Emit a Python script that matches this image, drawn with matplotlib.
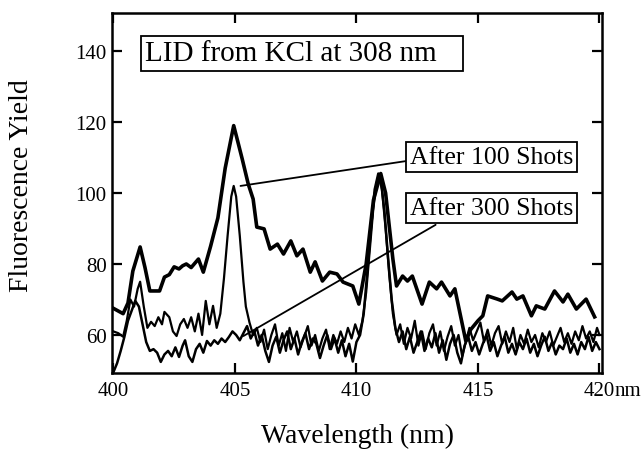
import matplotlib.pyplot as plt

plt.rcParams['font.family'] = ['Liberation Serif', 'DejaVu Serif']

# thick trace (no label in the figure)
wl_top = [400.0, 400.4, 400.6, 400.8, 401.1, 401.3, 401.5, 401.9, 402.1, 402.3,
          402.5, 402.7, 402.85, 403.0, 403.2, 403.5, 403.7, 404.0, 404.3, 404.6,
          404.95, 405.1, 405.3, 405.55, 405.75, 405.9, 406.2, 406.45, 406.75, 407.0,
          407.3, 407.55, 407.8, 408.1, 408.3, 408.6, 408.9, 409.2, 409.45, 409.85,
          410.1, 410.4, 410.7, 411.0, 411.2, 411.5, 411.65, 411.9, 412.1, 412.3,
          412.7, 413.0, 413.3, 413.5, 413.85, 414.05, 414.5, 414.7, 415.0, 415.2,
          415.4, 415.8, 416.0, 416.4, 416.6, 416.85, 417.2, 417.4, 417.75, 418.15,
          418.5, 418.7, 419.05, 419.45, 419.8]
y_top = [67.5, 66.0, 69, 78, 84.8, 79, 72.4, 72.4, 76.3, 77,
         79.2, 78.6, 79.5, 80, 79, 81.4, 77.7, 85, 93, 107,
         119, 115, 109.6, 102.5, 98.3, 90.4, 89.9, 84.2, 85.6, 82.8,
         86.5, 82.3, 84.2, 77.7, 80.6, 75.2, 77.7, 77.2, 74.9, 73.8,
         68.7, 80, 98, 105.5, 100, 81.4, 73.8, 76.6, 75.2, 76.6,
         68.7, 74.9, 73.0, 74.9, 71, 73, 58.3, 61.5, 64, 65.4,
         71, 70.1, 69.6, 72.1, 70.1, 71, 65.4, 68.2, 67.3, 72.4,
         69.3, 71.5, 67.3, 70.1, 65.1]

wl_100 = [400.0, 400.2, 400.4, 400.55, 400.7, 400.85, 401.0, 401.1, 401.25, 401.4,
          401.55, 401.7, 401.85, 402.0, 402.1, 402.3, 402.45, 402.6, 402.75, 402.9,
          403.05, 403.2, 403.35, 403.5, 403.65, 403.8, 403.95, 404.1, 404.25, 404.4,
          404.55, 404.7, 404.85, 404.95, 405.05, 405.2, 405.35, 405.45, 405.6, 405.75,
          405.9, 406.05, 406.2, 406.35, 406.5, 406.65, 406.8, 406.95, 407.1, 407.25,
          407.4, 407.55, 407.7, 407.85, 408.0, 408.15, 408.3, 408.45, 408.6, 408.75,
          408.9, 409.05, 409.2, 409.35, 409.5, 409.65, 409.8, 409.95, 410.1, 410.25,
          410.4, 410.55, 410.7, 410.85, 410.95, 411.05, 411.2, 411.35, 411.5, 411.65,
          411.8, 411.95, 412.1, 412.25, 412.4, 412.55, 412.7, 412.85, 413.0, 413.15,
          413.3, 413.45, 413.6, 413.75, 413.9, 414.05, 414.2, 414.35, 414.5, 414.65,
          414.8, 414.95, 415.1, 415.25, 415.4, 415.55, 415.7, 415.85, 416.0, 416.15,
          416.3, 416.45, 416.6, 416.75, 416.9, 417.05, 417.2, 417.35, 417.5, 417.65,
          417.8, 417.95, 418.1, 418.25, 418.4, 418.55, 418.7, 418.85, 419.0, 419.15,
          419.3, 419.45, 419.6, 419.75, 419.9, 420.0]
y_100 = [61, 60.5, 59.5, 64, 70, 68, 73, 75, 68, 62,
         63.7, 62.5, 65, 63, 66.5, 65, 61, 59.7, 63, 64.5,
         62, 65, 61, 66, 60, 69.6, 63, 68.2, 62, 66,
         76, 88, 99, 102, 99, 88, 75, 68, 63.5, 60,
         62, 58, 61.5, 56, 60, 63, 57, 60.5, 55.5, 62,
         58, 61, 56.5, 59.5, 62.5, 57, 60, 55.5, 59, 61.5,
         56, 60, 57.5, 61, 58, 62, 59, 63, 60, 64,
         72, 84, 96, 103.5, 104, 101, 90, 77, 66, 60,
         63, 57.5, 62, 59, 64, 57, 61, 56, 60.5, 63,
         57, 61, 55.5, 59.5, 62.5, 57, 60, 54, 58, 62,
         58.5, 61, 63.5, 58, 61.5, 57, 60.5, 62.5, 57.5, 61,
         58, 62, 56, 60, 57.5, 61.5, 58, 60, 56.5, 60.5,
         58, 61, 57, 59.5, 62, 58, 60.5, 57.5, 61, 58.5,
         62.5, 59, 61, 58, 62, 60]

wl_300 = [400.0, 400.15, 400.3, 400.45, 400.6, 400.75, 400.9, 401.05, 401.2, 401.35,
          401.5, 401.65, 401.8, 401.95, 402.1, 402.25, 402.4, 402.55, 402.7, 402.85,
          402.95, 403.1, 403.25, 403.4, 403.55, 403.7, 403.85, 404.0, 404.15, 404.3,
          404.45, 404.6, 404.75, 404.9, 405.05, 405.2, 405.35, 405.5, 405.65, 405.8,
          405.95, 406.1, 406.25, 406.4, 406.55, 406.7, 406.85, 407.0, 407.15, 407.3,
          407.45, 407.6, 407.75, 407.9, 408.05, 408.2, 408.35, 408.5, 408.65, 408.8,
          408.95, 409.1, 409.25, 409.4, 409.55, 409.7, 409.85, 410.0, 410.15, 410.3,
          410.45, 410.6, 410.75, 410.9, 411.0, 411.15, 411.3, 411.45, 411.6, 411.75,
          411.9, 412.05, 412.2, 412.35, 412.5, 412.65, 412.8, 412.95, 413.1, 413.25,
          413.4, 413.55, 413.7, 413.85, 414.0, 414.15, 414.3, 414.45, 414.6, 414.75,
          414.9, 415.05, 415.2, 415.35, 415.5, 415.65, 415.8, 415.95, 416.1, 416.25,
          416.4, 416.55, 416.7, 416.85, 417.0, 417.15, 417.3, 417.45, 417.6, 417.75,
          417.9, 418.05, 418.2, 418.35, 418.5, 418.65, 418.8, 418.95, 419.1, 419.25,
          419.4, 419.55, 419.7, 419.85, 420.0]
y_300 = [49.5, 52, 55.5, 59.4, 64, 66.8, 69.6, 68, 63, 58,
         55.5, 56, 55, 52.4, 54.5, 55.5, 54, 56.5, 53.8, 57,
         58.5, 54, 52.4, 56, 57.5, 55, 58.3, 57, 58.5, 57.5,
         59, 58, 59.4, 61, 60, 58.5, 60.5, 62.5, 59, 61,
         57, 60, 55.5, 52.4, 57, 59.5, 55, 58.5, 61, 56,
         59, 54.5, 58, 60.5, 56, 59, 57.5, 53.5, 57, 60,
         56, 59, 55, 58.5, 54, 57.5, 52.5, 58, 60, 66,
         78, 90, 101, 105.5, 104, 95, 82, 70, 62, 58,
         61, 56, 59.5, 55, 58, 61, 55.5, 59, 56.5, 60.5,
         55, 58.5, 53, 57.5, 60, 55, 52, 57, 59.5, 55.5,
         58, 54.5, 57.5, 60, 55.5, 58, 54, 57, 59.5, 55,
         57.5, 54.5, 58, 56, 59, 55, 57.5, 54, 57, 59.5,
         55.5, 58, 54.5, 57, 56, 59, 55, 57.5, 54.5, 58,
         56, 59.5, 55.5, 58, 56]

xticks = [400, 405, 410, 415, 420]
xtick_labels = ['400', '405', '410', '415', '420']
yticks = [60, 80, 100, 120, 140]

fig = plt.figure(figsize=(6.41, 4.56), dpi=100)
ax = fig.add_axes([0.175, 0.18, 0.764, 0.789])

ax.plot(wl_300, y_300, color='black', lw=1.8)
ax.plot(wl_100, y_100, color='black', lw=1.6)
ax.plot(wl_top, y_top, color='black', lw=2.6)

ax.set_xlim(399.95, 420.1)
ax.set_ylim(49.3, 150.7)
ax.set_xticks(xticks)
ax.set_xticklabels(xtick_labels)
ax.set_yticks(yticks)

ax.tick_params(direction='in', length=7, width=1.6, labelsize=15,
               top=True, right=True)
ax.tick_params(axis='x', pad=6)
ax.tick_params(axis='y', pad=4)
for s in ax.spines.values():
    s.set_linewidth(1.8)

# "nm" after the last tick label
ax.annotate('nm', xy=(420, 0), xycoords=('data', 'axes fraction'),
            xytext=(11.2, -6), textcoords='offset points',
            ha='left', va='top', fontsize=15)

ax.set_xlabel('Wavelength (nm)', fontsize=20, labelpad=16)
ax.set_ylabel('Fluorescence Yield', fontsize=20)
ax.yaxis.set_label_coords(-0.159, 0.522)

box = dict(boxstyle='square,pad=0.15', fc='white', ec='black', lw=1.3)
ax.text(401.3, 139.4, 'LID from KCl at 308 nm   ', fontsize=21,
        ha='left', va='center', bbox=box)

ax.annotate('After 100 Shots', xy=(405.23, 102), xytext=(412.2, 110.1),
            fontsize=18.5, ha='left', va='center', bbox=box,
            arrowprops=dict(arrowstyle='-', lw=1.3, color='black',
                            relpos=(0, 0.35), shrinkA=0, shrinkB=0))
ax.annotate('After 300 Shots', xy=(405.35, 59.7), xytext=(412.2, 95.8),
            fontsize=18.5, ha='left', va='center', bbox=box,
            arrowprops=dict(arrowstyle='-', lw=1.3, color='black',
                            relpos=(0.22, 0), shrinkA=2, shrinkB=0))

fig.savefig('out.png', dpi=100)
